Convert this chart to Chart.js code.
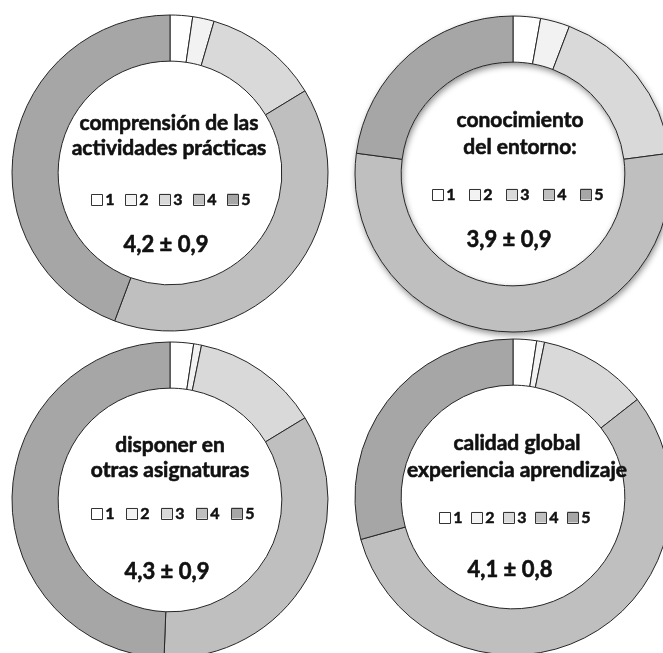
<!DOCTYPE html>
<html>
<head>
<meta charset="utf-8">
<script src="https://cdn.jsdelivr.net/npm/chart.js@4.4.1/dist/chart.umd.min.js"></script>
<style>
  body { margin: 0; background: #fff; width: 663px; height: 653px; overflow: hidden; position: relative; }
  canvas { position: absolute; }
</style>
</head>
<body>
<canvas id="c1" width="340" height="340" style="left:0;top:3px"></canvas>
<canvas id="c2" width="340" height="340" style="left:343px;top:4px"></canvas>
<canvas id="c3" width="340" height="340" style="left:0;top:330px"></canvas>
<canvas id="c4" width="340" height="340" style="left:343px;top:327px"></canvas>
<script>
// Rating scale and share of answers (%) per question
var ratingLabels = ["1", "2", "3", "4", "5"];
var comprensionPct = [2.3, 2.2, 11.8, 39.4, 44.3];
var entornoPct = [2.8, 3.0, 17.1, 54.2, 22.9];
var asignaturasPct = [2.4, 0.8, 13.1, 34.3, 49.4];
var calidadPct = [2.4, 0.8, 11.2, 56.2, 29.3];

var titles = [
  ["comprensión de las", "actividades prácticas"],
  ["conocimiento", "del entorno:"],
  ["disponer en", "otras asignaturas"],
  ["calidad global", "experiencia aprendizaje"],
];
var meanLabels = ["4,2 ± 0,9", "3,9 ± 0,9", "4,3 ± 0,9", "4,1 ± 0,8"];

var greys = ["#ffffff", "#f2f2f2", "#d9d9d9", "#bfbfbf", "#a6a6a6"];
var fontFamily = "Lato, 'Open Sans', sans-serif";

// soft drop shadow under the ring
const ringShadow = {
  id: "ringShadow",
  beforeDatasetsDraw(chart, args, opts) {
    if (!opts.enabled) return;
    const arc = chart.getDatasetMeta(0).data[0];
    const ctx = chart.ctx;
    ctx.save();
    ctx.shadowColor = "rgba(0,0,0,0.45)";
    ctx.shadowBlur = 6;
    ctx.shadowOffsetX = 1;
    ctx.shadowOffsetY = 3;
    ctx.fillStyle = "#fff";
    ctx.beginPath();
    ctx.arc(arc.x, arc.y, arc.outerRadius, 0, Math.PI * 2);
    ctx.arc(arc.x, arc.y, arc.innerRadius, Math.PI * 2, 0, true);
    ctx.fill();
    ctx.restore();
  },
};

// heavier text: fill plus a thin stroke of the same colour
function boldText(ctx, str, x, y) {
  ctx.fillText(str, x, y);
  ctx.strokeText(str, x, y);
}

// title, legend and mean written inside the hole
const centerText = {
  id: "centerText",
  afterDraw(chart, args, o) {
    const arc = chart.getDatasetMeta(0).data[0];
    const cx = arc.x, cy = arc.y;
    const ctx = chart.ctx;
    const ds = chart.data.datasets[0];
    ctx.save();
    ctx.fillStyle = "#111";
    ctx.textAlign = "center";
    ctx.textBaseline = "middle";
    ctx.lineJoin = "round";

    ctx.font = "bold 21px " + fontFamily;
    ctx.strokeStyle = "#111";
    ctx.lineWidth = 0.6;
    o.title.forEach(function (line, i) {
      boldText(ctx, line, cx + o.titleDx, cy + o.titleY[i]);
    });

    // legend: small boxes with the slice colours
    ctx.font = "bold 16px " + fontFamily;
    ctx.textAlign = "left";
    const box = 11;
    const n = chart.data.labels.length;
    const total = (n - 1) * o.pitch + box + 3 + ctx.measureText("5").width;
    let x = cx + o.legendDx - total / 2;
    const ly = cy + o.legendY;
    chart.data.labels.forEach(function (lab, i) {
      ctx.fillStyle = ds.backgroundColor[i];
      ctx.fillRect(x, ly - box / 2, box, box);
      ctx.strokeStyle = "#333";
      ctx.lineWidth = 1;
      ctx.strokeRect(Math.round(x) + 0.5, Math.round(ly - box / 2) + 0.5, box, box);
      ctx.fillStyle = "#111";
      ctx.strokeStyle = "#111";
      ctx.lineWidth = 0.5;
      boldText(ctx, lab, x + box + 3, ly + 1);
      x += o.pitch;
    });

    ctx.textAlign = "center";
    ctx.font = "bold 22px " + fontFamily;
    ctx.lineWidth = 0.6;
    boldText(ctx, o.mean, cx + o.meanDx, cy + o.meanY);
    ctx.restore();
  },
};

function makeDonut(id, values, idx, layout, shadow) {
  return new Chart(document.getElementById(id), {
    type: "doughnut",
    data: {
      labels: ratingLabels,
      datasets: [{
        data: values,
        backgroundColor: greys,
        borderColor: "#262626",
        borderWidth: 1,
      }],
    },
    options: {
      responsive: false,
      animation: false,
      radius: 158,
      cutout: 120,
      plugins: {
        legend: { display: false },
        tooltip: { enabled: false },
        ringShadow: { enabled: shadow },
        centerText: Object.assign({ title: titles[idx], mean: meanLabels[idx] }, layout),
      },
    },
    plugins: [ringShadow, centerText],
  });
}

makeDonut("c1", comprensionPct, 0,
  { titleDx: -1, titleY: [-50, -25], legendDx: 1, legendY: 26, pitch: 34, meanDx: -4, meanY: 72 }, false);
makeDonut("c2", entornoPct, 1,
  { titleDx: 7, titleY: [-54, -27], legendDx: 5, legendY: 20, pitch: 37, meanDx: -4, meanY: 66 }, true);
makeDonut("c3", asignaturasPct, 2,
  { titleDx: 0, titleY: [-55, -30], legendDx: 3, legendY: 13, pitch: 35, meanDx: -3, meanY: 72 }, false);
makeDonut("c4", calidadPct, 3,
  { titleDx: 4, titleY: [-54, -27], legendDx: 2, legendY: 20, pitch: 32, meanDx: -3, meanY: 73 }, false);
</script>
</body>
</html>
